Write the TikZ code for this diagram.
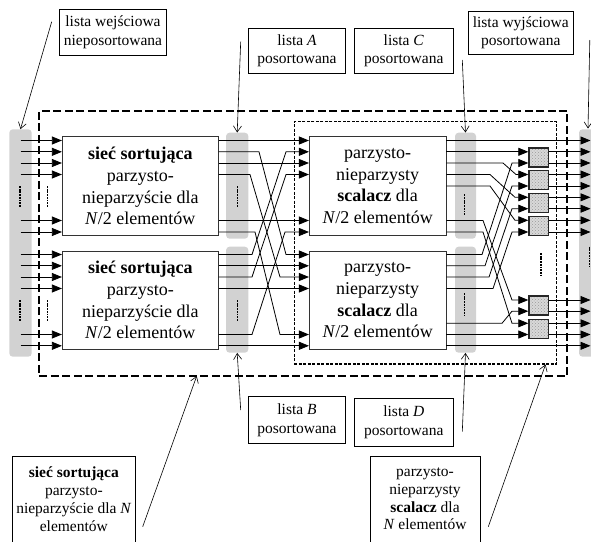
\documentclass[tikz,border=0pt]{standalone}
\usepackage{fontspec}
\setmainfont{Liberation Serif}
\usetikzlibrary{arrows.meta,patterns}

\begin{document}
\begin{tikzpicture}[x=1pt,y=-1pt,
  wire/.style={line width=0.8pt},
  tip/.style={-{Triangle[length=10pt,width=8pt]}},
  bar/.style={fill=gray!35, rounded corners=3.5pt, draw=none, inner sep=0pt},
  blk/.style={draw=black!80, line width=0.8pt, fill=white, inner sep=0pt,
    minimum width=156pt, minimum height=98.6pt, align=center,
    font=\fontsize{18pt}{21.7pt}\selectfont},
  mblk/.style={blk, minimum width=136.7pt},
  cmp/.style={draw=black!85, line width=1.3pt, minimum width=19.7pt, minimum height=19pt,
    inner sep=0pt, preaction={fill=gray!30}, pattern=crosshatch dots, pattern color=gray!80},
  lbl/.style={draw, line width=0.8pt, fill=white, inner sep=0pt, align=center,
    font=\fontsize{15.5pt}{18.3pt}\selectfont},
  blbl/.style={lbl, font=\fontsize{15.5pt}{17.8pt}\selectfont},
  ptr/.style={line width=0.6pt, -{Straight Barb[length=6pt,width=8pt]}},
  omit/.style={line width=1.6pt, dash pattern=on 1.8pt off 0.9pt},
  outerbox/.style={draw, line width=2pt, dash pattern=on 8pt off 3.5pt, inner sep=0pt},
  innerbox/.style={draw, line width=1.1pt, dash pattern=on 3pt off 1.5pt, inner sep=0pt}
]
\useasboundingbox (0,0) rectangle (591,541);

% grey bars holding the lists
\node[bar, minimum width=22.4pt, minimum height=227.4pt] (inbar) at (20.5,243) {};
\node[bar, minimum width=22.3pt, minimum height=106pt] (barA) at (237.2,185.7) {};
\node[bar, minimum width=22.3pt, minimum height=106pt] (barB) at (237.2,299.7) {};
\node[bar, minimum width=21pt, minimum height=106pt] (barC) at (465.5,185.7) {};
\node[bar, minimum width=21pt, minimum height=106pt] (barD) at (465.5,299.7) {};
\node[bar, minimum width=23pt, minimum height=227.4pt] (outbar) at (590.5,243) {};

% sorting networks and mergers
\node[blk] (s1) at (140.3,186) {\textbf{sieć sortująca}\\parzysto-\\nieparzyście dla\\\textit{N}/2 elementów};
\node[blk] (s2) at (140.3,300.2) {\textbf{sieć sortująca}\\parzysto-\\nieparzyście dla\\\textit{N}/2 elementów};
\node[mblk] (m1) at (377.7,186) {parzysto-\\nieparzysty\\\textbf{scalacz} dla\\\textit{N}/2 elementów};
\node[mblk] (m2) at (377.7,300.2) {parzysto-\\nieparzysty\\\textbf{scalacz} dla\\\textit{N}/2 elementów};

% comparators of the last stage
\node[cmp] (k1) at (538.8,157.4) {};
\node[cmp] (k2) at (538.8,180.25) {};
\node[cmp] (k3) at (538.8,203) {};
\node[cmp] (k4) at (538.8,226.15) {};
\node[cmp] (k5) at (538.8,305.6) {};
\node[cmp] (k6) at (538.8,328.9) {};

% inputs of both sorting networks
\foreach \y in {140.5,151.8,163,174.5,220.5,232}
  \draw[wire,tip] (inbar.center |- 0,\y) -- (s1.west |- 0,\y);
\foreach \y in {254.5,265.8,277,288.5,334.5,345.8}
  \draw[wire,tip] (inbar.center |- 0,\y) -- (s2.west |- 0,\y);

% lists A and B into the mergers
\foreach \y in {140.5,163,220.5}
  \draw[wire,tip] (s1.east |- 0,\y) -- (m1.west |- 0,\y);
\foreach \y in {265.8,288.5,345.8}
  \draw[wire,tip] (s2.east |- 0,\y) -- (m2.west |- 0,\y);
\foreach \ya/\xa/\xb/\yb in {151.8/259/286/254.5, 174.5/250/280/277, 232/255/280/334.5}
  \draw[wire,tip] (s1.east |- 0,\ya) -- (\xa,\ya) -- (\xb,\yb) -- (m2.west |- 0,\yb);
\foreach \ya/\xa/\xb/\yb in {254.5/252/286/151.8, 277/252/286/174.5, 334.5/252/285/232}
  \draw[wire,tip] (s2.east |- 0,\ya) -- (\xa,\ya) -- (\xb,\yb) -- (m1.west |- 0,\yb);

% lists C and D into the comparators
\draw[wire,tip] (m1.east |- 0,140.5) -- (outbar.center |- 0,140.5);
\draw[wire,tip] (m1.east |- 0,151.8) -- (k1.west |- 0,151.8);
\foreach \ya/\xa/\xb/\yb/\k in {163/503/516/174.5/k2, 174.5/490/515/197.3/k3,
    186/490/515/220.3/k4, 220.5/483/512/300/k5, 232/483/512/323.3/k6}
  \draw[wire,tip] (m1.east |- 0,\ya) -- (\xa,\ya) -- (\xb,\yb) -- (\k.west |- 0,\yb);
\foreach \ya/\xa/\xb/\yb/\k in {254.5/482/512/163/k1, 265.8/485/512/186/k2,
    277/489/512/208.7/k3, 288.5/493/512/232/k4, 323.3/502/512/311.2/k5}
  \draw[wire,tip] (m2.east |- 0,\ya) -- (\xa,\ya) -- (\xb,\yb) -- (\k.west |- 0,\yb);
\draw[wire,tip] (m2.east |- 0,334.5) -- (k6.west |- 0,334.5);
\draw[wire,tip] (m2.east |- 0,345.8) -- (outbar.center |- 0,345.8);

% comparator outputs
\foreach \y/\k in {151.8/k1, 163/k1, 174.5/k2, 186/k2, 197.3/k3, 208.7/k3,
    220.3/k4, 232/k4, 300/k5, 311.2/k5, 323.3/k6, 334.5/k6}
  \draw[wire,tip] (\k.east |- 0,\y) -- (outbar.center |- 0,\y);

% omitted elements
\foreach \x in {20,47.3,237.3} {
  \draw[omit] (\x,186) -- (\x,206.7);
  \draw[omit] (\x,300) -- (\x,320.5);
}
\draw[omit] (464.3,194.3) -- (464.3,215);
\draw[omit] (464.3,293) -- (464.3,315);
\draw[omit] (540.7,253) -- (540.7,275);
\draw[omit] (589.3,246.7) -- (589.3,266.7);

% whole network and whole merger
\node[outerbox, minimum width=528pt, minimum height=265.3pt] (net) at (303.3,243.35) {};
\node[innerbox, minimum width=262.4pt, minimum height=242.3pt] (mrg) at (425.5,242.85) {};

% labels
\node[lbl, minimum width=107.4pt, minimum height=45.7pt] (lIn) at (113,32.2) {lista wejściowa\\nieposortowana};
\node[lbl, minimum width=97.4pt, minimum height=45pt] (lA) at (297,50.8) {lista \textit{A}\\posortowana};
\node[lbl, minimum width=99pt, minimum height=45pt] (lC) at (403.8,50.8) {lista \textit{C}\\posortowana};
\node[lbl, minimum width=105pt, minimum height=42.6pt] (lOut) at (520.8,33) {lista wyjściowa\\posortowana};
\node[lbl, minimum width=97.4pt, minimum height=47pt] (lB) at (297,420.2) {lista \textit{B}\\posortowana};
\node[lbl, minimum width=99pt, minimum height=47.7pt] (lD) at (403.8,422.2) {lista \textit{D}\\posortowana};
\node[blbl, minimum width=122.3pt, minimum height=86pt] (lN) at (73.85,499)
  {\textbf{sieć sortująca}\\parzysto-\\nieparzyście dla \textit{N}\\elementów};
\node[blbl, minimum width=110pt, minimum height=86pt] (lM) at (425,499)
  {parzysto-\\nieparzysty\\\textbf{scalacz} dla\\\textit{N} elementów};

% pointers from the labels
\coordinate (pIn) at (51.7,21.7);
\coordinate (pA) at (240.7,41.7);
\coordinate (pC) at (462.3,60);
\coordinate (pOut) at (589.8,40);
\coordinate (tOut) at (588,128.5);
\coordinate (pB) at (240.7,410);
\coordinate (pD) at (462.3,431.7);
\coordinate (pN) at (142.7,526.7);
\coordinate (tN) at (196.7,376);
\coordinate (pM) at (488.3,526.7);
\coordinate (tM) at (545.5,364.5);
\draw[ptr] (pIn) -- (inbar.north);
\draw[ptr] (pA) -- (barA.north);
\draw[ptr] (pC) -- (barC.north);
\draw[ptr] (pOut) -- (tOut);
\draw[ptr] (pB) -- (barB.south);
\draw[ptr] (pD) -- (barD.south);
\draw[ptr] (pN) -- (tN);
\draw[ptr] (pM) -- (tM);
\end{tikzpicture}
\end{document}
